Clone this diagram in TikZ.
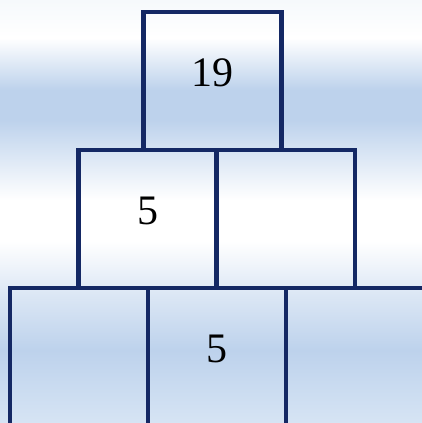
\documentclass[tikz,border=0pt]{standalone}
\usepackage{fontspec}
\setmainfont{Liberation Serif}
\definecolor{navy}{RGB}{20,40,100}
\definecolor{bandblue}{RGB}{189,210,236}
\definecolor{lowblue}{RGB}{214,228,244}
\definecolor{topwhite}{RGB}{246,249,252}
\pgfdeclareverticalshading{bands}{100bp}{color(0bp)=(lowblue); color(25bp)=(lowblue);
  color(33.6bp)=(bandblue); color(40bp)=(bandblue!55); color(46.5bp)=(white);
  color(51.4bp)=(white); color(60.8bp)=(bandblue); color(64.4bp)=(bandblue);
  color(70.5bp)=(white); color(75bp)=(topwhite); color(100bp)=(topwhite)}
\begin{document}
\begin{tikzpicture}[x=1pt, y=-1pt,
    cell/.style={draw=navy, line width=4.5pt, minimum width=138pt, minimum height=138pt,
      inner sep=0pt, text depth=16pt, font=\fontsize{42}{46}\selectfont}]
    % background bands
    \useasboundingbox (0,0) rectangle (422,423);
    \clip (0,0) rectangle (422,423);
    \shade[shading=bands] (0,0) rectangle (422,423);
    % top row
    \node[cell] (top) at (212.5,81) {19};
    % middle row
    \node[cell] (midl) at (147.5,219) {5};
    \node[cell] (midr) at (286,219) {};
    % bottom row
    \node[cell] (botl) at (79,357) {};
    \node[cell] (botm) at (217,357) {5};
    \node[cell] (botr) at (355,357) {};
\end{tikzpicture}
\end{document}
